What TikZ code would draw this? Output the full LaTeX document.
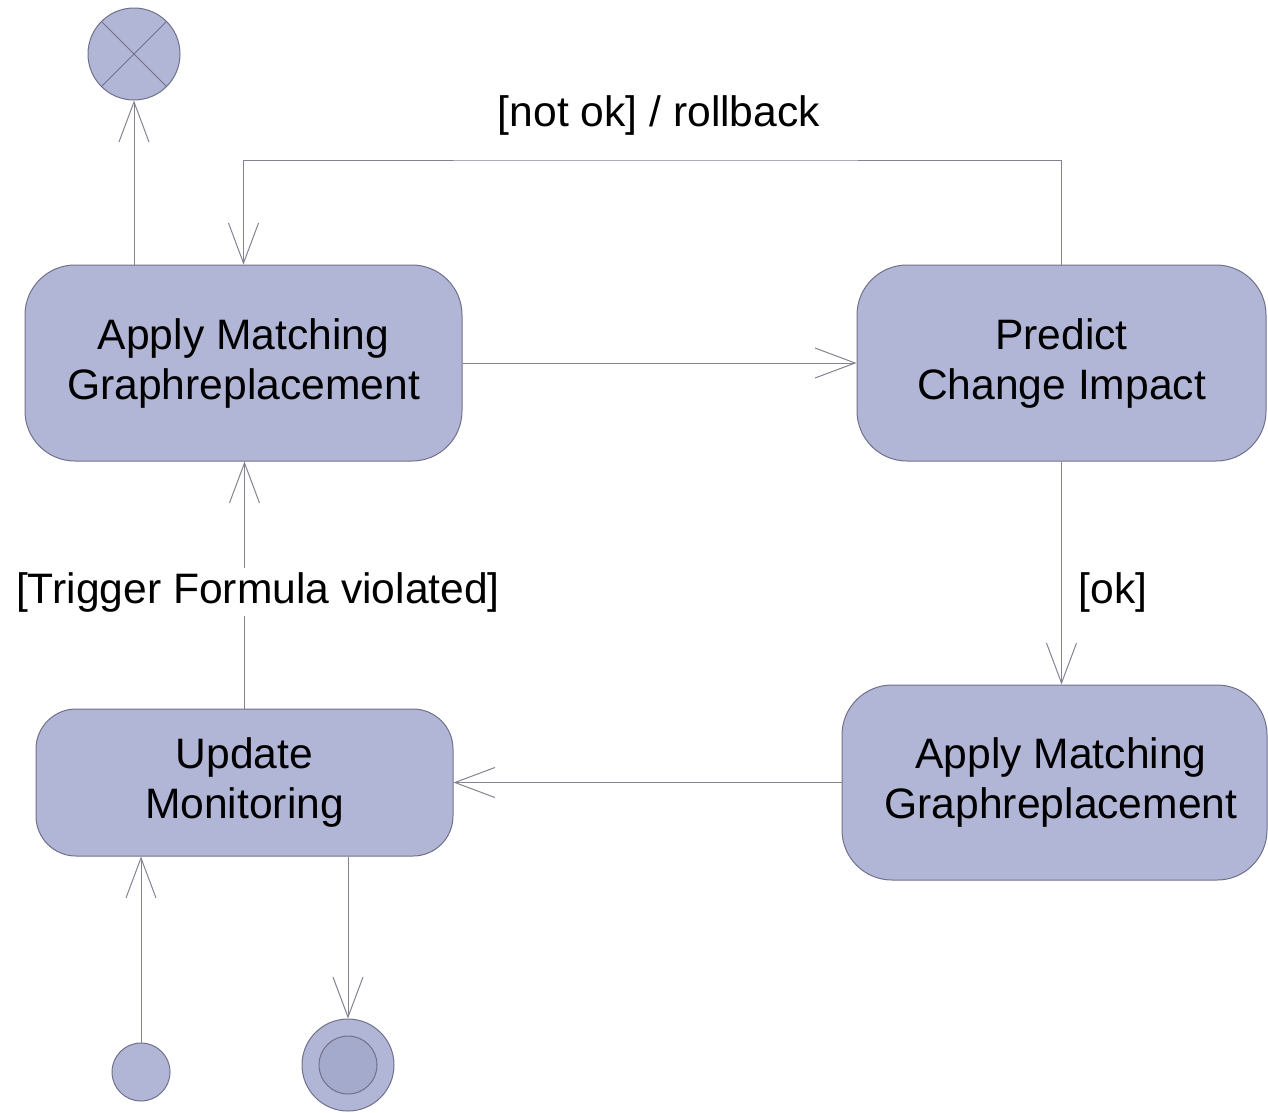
\documentclass[tikz,border=0pt]{standalone}
\usepackage{fontspec}
\setmainfont{Liberation Sans}
\usetikzlibrary{arrows.meta}
\definecolor{statefill}{RGB}{178,182,214}
\definecolor{innerfill}{RGB}{164,170,204}
\definecolor{edgeline}{RGB}{112,112,138}
\definecolor{flowline}{RGB}{130,130,146}
\tikzset{
  statebox/.style={draw=edgeline, line width=1pt, fill=statefill, rounded corners=50pt,
    align=center, inner sep=0pt, font=\fontsize{42.6pt}{50pt}\selectfont},
  pseudo/.style={draw=edgeline, line width=1pt, fill=statefill, circle, inner sep=0pt},
  flow/.style={draw=flowline, line width=1pt, -{Straight Barb[length=40pt,width=30pt,line width=1pt]}},
  guard/.style={font=\fontsize{42.6pt}{50pt}\selectfont, inner sep=2pt}
}
\begin{document}
\begin{tikzpicture}[x=1pt,y=-1pt]
\useasboundingbox (0,0) rectangle (1268,1112);

% states
\node[statebox, minimum width=437pt, minimum height=196pt] (apply1) at (243.5,363) {\raisebox{-3pt}{Apply Matching}\\\raisebox{-3pt}{Graphreplacement}};
\node[statebox, minimum width=409pt, minimum height=196pt] (predict) at (1061.5,363) {\raisebox{-3pt}{Predict}\\\raisebox{-3pt}{Change Impact}};
\node[statebox, minimum width=425pt, minimum height=195pt] (apply2) at (1054.5,782.5) {\hspace*{13pt}\raisebox{-3pt}{Apply Matching}\\\hspace*{13pt}\raisebox{-3pt}{Graphreplacement}};
\node[statebox, rounded corners=40pt, minimum width=417pt, minimum height=147pt] (update) at (244.5,782.5) {\raisebox{-3pt}{Update}\\\raisebox{-3pt}{Monitoring}};

% pseudostates
\node[pseudo, minimum size=92pt] (term) at (134,54) {};
\draw[edgeline, line width=1pt] (term.north west) -- (term.south east)
  (term.north east) -- (term.south west);
\node[pseudo, minimum size=58pt] (init) at (141,1072) {};
\node[pseudo, minimum size=92pt] (final) at (348,1065) {};
\node[pseudo, fill=innerfill, minimum size=58pt] (finalcore) at (348,1065) {};

% transitions
\draw[flow] (term |- apply1.north) -- (term.south);
\coordinate (loopmid) at (659,160);
\draw[flow] (predict.north) |- (loopmid) -| (apply1.north);
\node[guard] (notok) at (659,115) {[not ok] / rollback};
\draw[flow] (apply1.east) -- (predict.west);
\draw[flow] (predict.south) -- (predict.south |- apply2.north);
\node[guard] (ok) at (1113,592) {[ok]};
\draw[flow] (apply2.west) -- (update.east);
\draw[flow] (update.north) -- (update.north |- apply1.south);
\node[guard, fill=white, inner ysep=4pt] (trigger) at (258,592) {[Trigger Formula violated]};
\draw[flow] (init.north) -- (init.north |- update.south);
\draw[flow] (final.north |- update.south) -- (final.north);
\end{tikzpicture}
\end{document}
